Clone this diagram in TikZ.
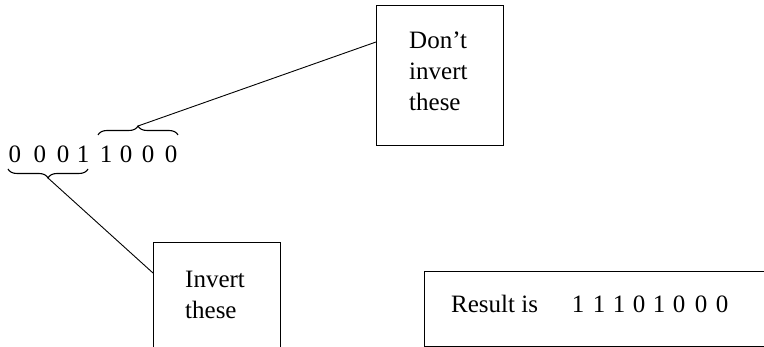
\documentclass[tikz,border=0pt]{standalone}
\usepackage{fontspec}
\setmainfont{Liberation Serif}
\usetikzlibrary{decorations.pathreplacing,calc}
\begin{document}
\begin{tikzpicture}[x=1pt,y=-1pt,
  box/.style={draw=black, line width=1.3pt, inner sep=0pt},
  txt/.style={font=\fontsize{25}{31}\selectfont, inner sep=0pt, align=left},
  dig/.style={font=\fontsize{25}{30}\selectfont, inner sep=0pt, anchor=base},
  link/.style={draw=black, line width=0.9pt},
  brc/.style={decorate, decoration={brace, amplitude=9pt}, line width=1.1pt}]
\useasboundingbox (0,0) rectangle (764,347);
\clip (0,0) rectangle (764,347);
% boxes
\node[box, minimum width=127pt, minimum height=140pt, anchor=north west] (dontbox) at (376,5) {};
\node[txt, anchor=north west] (donttxt) at (409,32) {Don’t\\invert\\these};
\node[box, minimum width=127pt, minimum height=140pt, anchor=north west] (invbox) at (153,242) {};
\node[txt, anchor=north west] (invtxt) at (185,271) {Invert\\these};
\node[box, minimum width=400pt, minimum height=75pt, anchor=north west] (resbox) at (424,271) {};
\node[txt, anchor=base west] (restxt) at (451,313) {Result is};
\foreach \d/\x [count=\i] in {1/578,1/599,1/619,0/639,1/659,0/679,0/701,0/722}
  \node[dig] (r\i) at (\x,313) {\d};
% bit string
\foreach \d/\x [count=\i] in {0/15,0/40,0/63,1/83,1/106,0/126,0/148,0/171}
  \node[dig] (b\i) at (\x,163) {\d};
% braces
\draw[brc] (88,169) -- (8,169);
\coordinate (tipA) at (48,178);
\draw[brc] (98,135) -- (178,135);
\coordinate (tipB) at (138,126);
% connectors
\coordinate (dontin) at ($(dontbox.north west)+(0,37)$);
\coordinate (invin) at ($(invbox.north west)+(0,31)$);
\draw[link] (tipB) -- (dontin);
\draw[link] (tipA) -- (invin);
\end{tikzpicture}
\end{document}
